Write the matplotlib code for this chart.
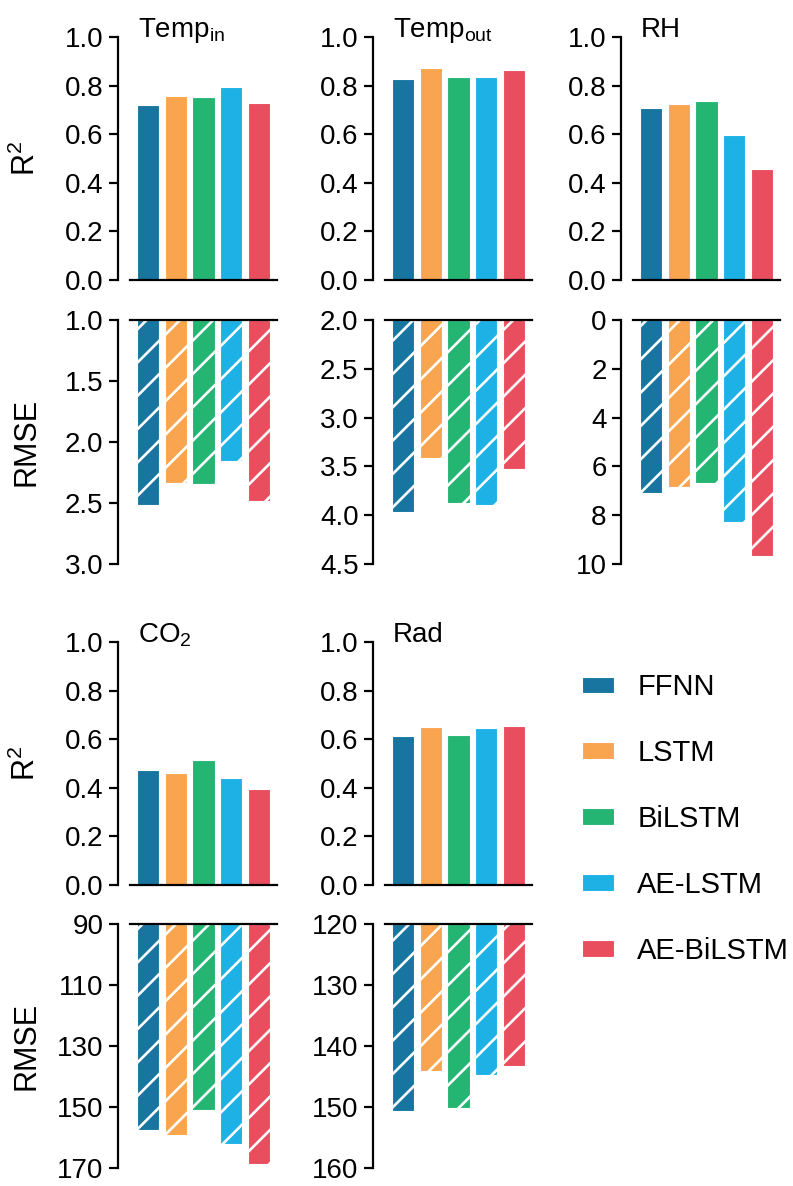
import numpy as np
import matplotlib
matplotlib.use('Agg')
import matplotlib.pyplot as plt
from matplotlib.patches import Patch
from matplotlib.ticker import FormatStrFormatter

plt.rcParams['font.family'] = ['Liberation Sans', 'DejaVu Sans']
plt.rcParams['mathtext.default'] = 'regular'
plt.rcParams['hatch.linewidth'] = 1.9
plt.rcParams['hatch.color'] = 'white'

# models and colours
models = ['FFNN', 'LSTM', 'BiLSTM', 'AE-LSTM', 'AE-BiLSTM']
colors = ['#17759f', '#f9a54f', '#25b573', '#1db1e5', '#e84e5e']

# target variables
variables = ['Temp$_{in}$', 'Temp$_{out}$', 'RH', 'CO$_2$', 'Rad']

# R2 per variable
r2_temp_in = [0.720, 0.758, 0.755, 0.794, 0.729]
r2_temp_out = [0.829, 0.874, 0.836, 0.836, 0.865]
r2_rh = [0.708, 0.725, 0.736, 0.597, 0.456]
r2_co2 = [0.473, 0.462, 0.515, 0.440, 0.396]
r2_rad = [0.615, 0.649, 0.619, 0.645, 0.653]

# RMSE per variable
rmse_temp_in = [2.514, 2.336, 2.347, 2.156, 2.486]
rmse_temp_out = [3.964, 3.414, 3.878, 3.892, 3.523]
rmse_rh = [7.08, 6.83, 6.69, 8.29, 9.66]
rmse_co2 = [157.4, 159.2, 151.0, 162.1, 168.6]
rmse_rad = [150.6, 144.05, 150.2, 144.8, 143.2]

r2_all = [r2_temp_in, r2_temp_out, r2_rh, r2_co2, r2_rad]
rmse_all = [rmse_temp_in, rmse_temp_out, rmse_rh, rmse_co2, rmse_rad]

# RMSE axis ticks (first = top of axis)
rmse_ticks = [
    [1.0, 1.5, 2.0, 2.5, 3.0],
    [2.0, 2.5, 3.0, 3.5, 4.0, 4.5],
    [0, 2, 4, 6, 8, 10],
    [90, 110, 130, 150, 170],
    [120, 130, 140, 150, 160],
]
rmse_fmt = ['%.1f', '%.1f', '%d', '%d', '%d']
r2_ticks = [0.0, 0.2, 0.4, 0.6, 0.8, 1.0]

W, H = 793, 1186
fig = plt.figure(figsize=(W / 100, H / 100), dpi=100)

col_x = [130, 385, 633]
col_w = 147
row_r2 = [37, 642]
row_rmse = [320, 924]
panel_h = 244


def place(x0, y0, w, h):
    return [x0 / W, 1 - (y0 + h) / H, w / W, h / H]


x = np.arange(len(models))
fs = 20
lw = 1.6

for i, var in enumerate(variables):
    col = i % 3
    grp = i // 3

    # R2 panel
    ax = fig.add_axes(place(col_x[col], row_r2[grp], col_w, panel_h - 1))
    ax.bar(x, r2_all[i], width=0.8, color=colors, edgecolor='white', linewidth=0.8)
    ax.set_xlim(-0.65, 4.65)
    ax.set_ylim(0, 1)
    ax.set_yticks(r2_ticks)
    ax.yaxis.set_major_formatter(FormatStrFormatter('%.1f'))
    ax.set_xticks([])
    ax.spines['top'].set_visible(False)
    ax.spines['right'].set_visible(False)
    ax.spines['left'].set_position(('outward', 9))
    for s in ['left', 'bottom']:
        ax.spines[s].set_linewidth(lw)
    ax.tick_params(axis='y', labelsize=fs, length=6.5, width=lw)
    ax.text(0.055, 1.0, var, transform=ax.transAxes, fontsize=fs,
            ha='left', va='baseline')
    if col == 0:
        ax.set_ylabel('R$^2$', fontsize=22)
        ax.yaxis.set_label_coords(-0.6, 0.5)

    # RMSE panel, drawn downward from the top of the axis
    ticks = rmse_ticks[i]
    lo, hi = ticks[0], ticks[-1]
    ax = fig.add_axes(place(col_x[col], row_rmse[grp], col_w, panel_h))
    vals = np.array(rmse_all[i])
    ax.bar(x, vals - lo, bottom=lo, width=0.8, color=colors,
           edgecolor='white', linewidth=0.8, hatch='/')
    ax.set_xlim(-0.65, 4.65)
    ax.set_ylim(hi, lo)
    ax.set_yticks(ticks)
    ax.yaxis.set_major_formatter(FormatStrFormatter(rmse_fmt[i]))
    ax.set_xticks([])
    ax.spines['bottom'].set_visible(False)
    ax.spines['right'].set_visible(False)
    ax.spines['left'].set_position(('outward', 9))
    for s in ['left', 'top']:
        ax.spines[s].set_linewidth(lw)
    ax.tick_params(axis='y', labelsize=fs, length=6.5, width=lw)
    if col == 0:
        ax.set_ylabel('RMSE', fontsize=22)
        ax.yaxis.set_label_coords(-0.6, 0.5)

handles = [Patch(facecolor=c, edgecolor='white', linewidth=0.8) for c in colors]
fig.legend(handles, models, loc='center left', bbox_to_anchor=(582 / W, 1 - 819 / H),
           frameon=False, fontsize=21, handlelength=1.1, handleheight=0.5,
           handletextpad=0.8, labelspacing=1.3, borderpad=0, borderaxespad=0)

fig.savefig('out.png', dpi=100)
